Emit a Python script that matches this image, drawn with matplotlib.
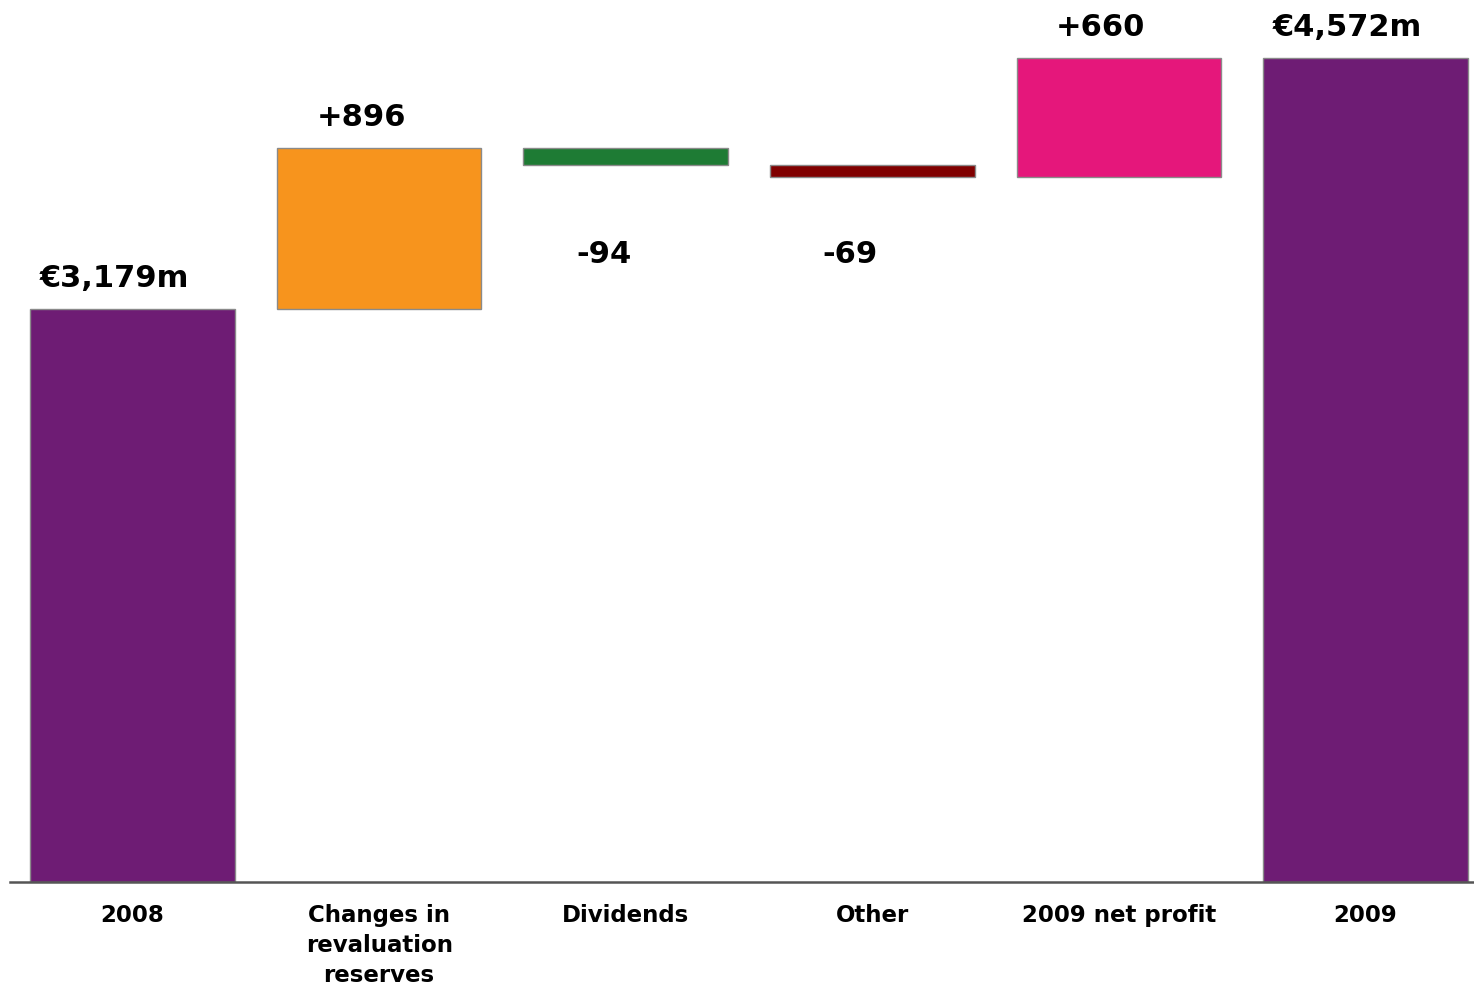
import numpy as np
import matplotlib
matplotlib.use("Agg")
import matplotlib.pyplot as plt

# ---- data (EUR m) ----
categories = ["2008", "Changes in\nrevaluation\nreserves", "Dividends", "Other",
              "2009 net profit", "2009"]
start_total = 3179
changes = [896, -94, -69, 660]
end_total = 4572
colors = ["#6E1C74", "#F7941D", "#1E7B34", "#800000", "#E5177B", "#6E1C74"]

# waterfall geometry from the data
cum = start_total + np.cumsum([0] + changes)          # level before/after each step
bottoms = [0] + [min(cum[i], cum[i + 1]) for i in range(len(changes))] + [0]
heights = [start_total] + [abs(c) for c in changes] + [end_total]
labels = [f"€{start_total:,}m"] + [f"{c:+d}" for c in changes] + [f"€{end_total:,}m"]

plt.rcParams.update({"font.family": "DejaVu Sans", "font.weight": "bold"})
fig = plt.figure(figsize=(14.74, 9.86), dpi=100)
ax = fig.add_axes([10 / 1474, 104 / 986, 1464 / 1474, 882 / 986])

x = np.arange(len(categories))
ax.bar(x, heights, bottom=bottoms, width=0.83, color=colors,
       edgecolor="#8a8a8a", linewidth=1.0, zorder=2)

# negative steps share one label row below their bars
neg_bottoms = [bottoms[i + 1] for i, c in enumerate(changes) if c < 0]
neg_y = min(neg_bottoms) - 430
for i, (lab, b, h) in enumerate(zip(labels, bottoms, heights)):
    is_neg = 0 < i < len(categories) - 1 and changes[i - 1] < 0
    if is_neg:
        ax.text(x[i] - 0.09, neg_y, lab, ha="center", va="center",
                fontsize=22, fontweight="bold")
    else:
        ax.annotate(lab, (x[i], b + h), xytext=(-13, 22), textcoords="offset points",
                    ha="center", va="center", fontsize=22, fontweight="bold")

ax.set_xlim(-0.497, 5.44)
ax.set_ylim(0, 4894)
ax.set_yticks([])
ax.set_xticks(x)
ax.set_xticklabels(categories, fontsize=16.5, fontweight="bold", linespacing=1.38,
                   va="top")
ax.tick_params(axis="x", length=0, pad=16)
for s in ("top", "right", "left"):
    ax.spines[s].set_visible(False)
ax.spines["bottom"].set_color("#555555")
ax.spines["bottom"].set_linewidth(1.8)

fig.savefig("out.png", dpi=100)
